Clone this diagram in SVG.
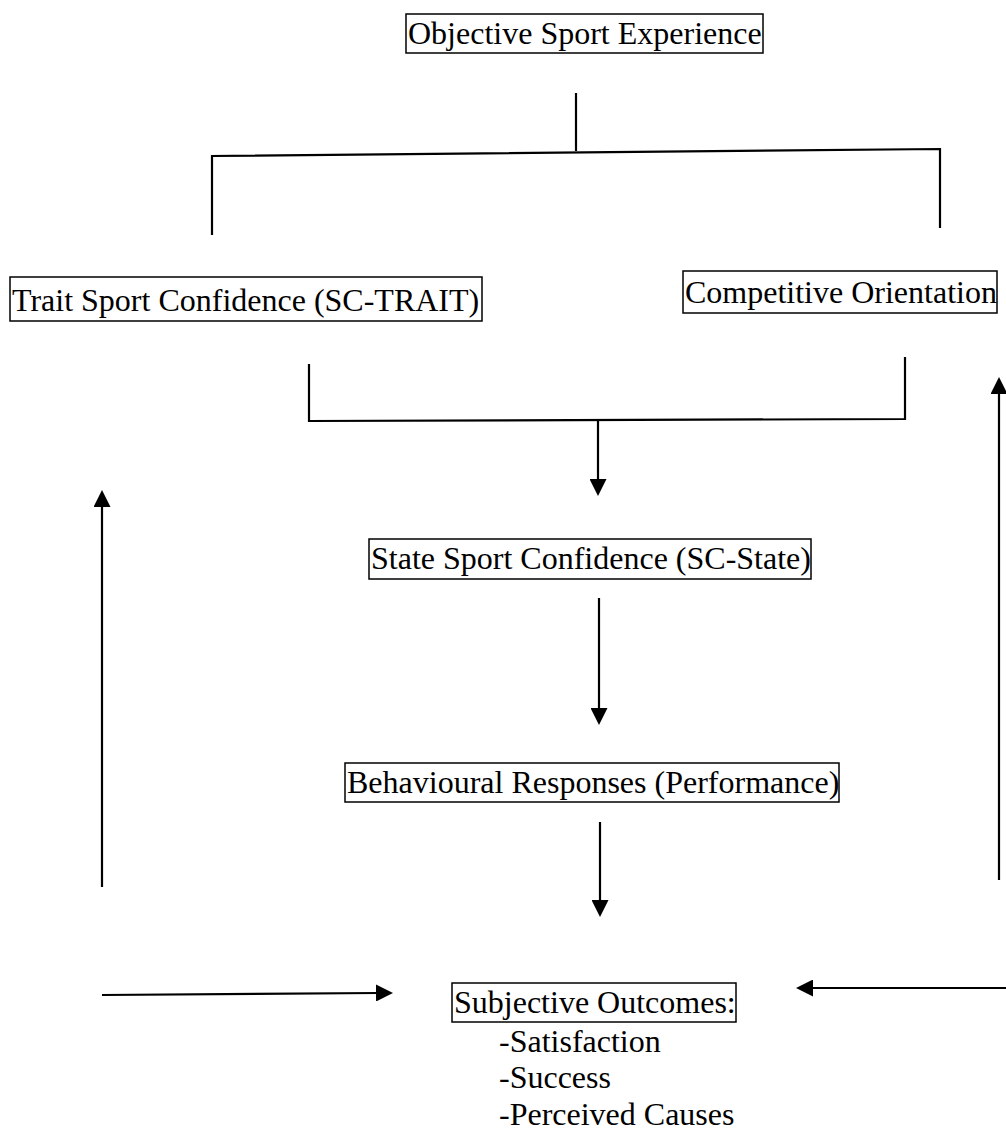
<svg xmlns="http://www.w3.org/2000/svg" width="1006" height="1130" viewBox="0 0 1006 1130">
<style>
  .box { fill: #fff; stroke: #000; stroke-width: 1.5; }
  .lbl { font-family: "Liberation Serif", "Times New Roman", serif; font-size: 32px; fill: #000; }
  .ln { fill: none; stroke: #000; stroke-width: 2.2; }
</style>
<defs>
  <marker id="ah" viewBox="0 0 17 17" markerUnits="userSpaceOnUse" markerWidth="17" markerHeight="17" refX="2" refY="8.5" orient="auto">
    <path d="M0,0 L17,8.5 L0,17 Z" fill="#000"/>
  </marker>
</defs>
<rect width="1006" height="1130" fill="#fff"/>

<g id="connectors">
  <path class="ln" d="M576,93 V151"/>
  <path class="ln" d="M212,235 V156 L940,149 V228"/>
  <path class="ln" d="M309,364 V421 L905,419 V357"/>
  <path class="ln" d="M598,421 V481" marker-end="url(#ah)"/>
  <path class="ln" d="M599,598 V710" marker-end="url(#ah)"/>
  <path class="ln" d="M600,822 V902" marker-end="url(#ah)"/>
  <path class="ln" d="M102,887 V505" marker-end="url(#ah)"/>
  <path class="ln" d="M999,880 V392" marker-end="url(#ah)"/>
  <path class="ln" d="M102,995 L378,993" marker-end="url(#ah)"/>
  <path class="ln" d="M1006,988 L811,988" marker-end="url(#ah)"/>
</g>

<g id="objective">
  <rect class="box" x="406" y="14" width="357" height="39"/>
  <text class="lbl" x="408" y="44">Objective Sport Experience</text>
</g>
<g id="trait">
  <rect class="box" x="10" y="277" width="472" height="44"/>
  <text class="lbl" x="12" y="311">Trait Sport Confidence (SC-TRAIT)</text>
</g>
<g id="competitive">
  <rect class="box" x="683" y="271" width="314" height="42"/>
  <text class="lbl" x="685" y="303">Competitive Orientation</text>
</g>
<g id="state">
  <rect class="box" x="369" y="539" width="442" height="40"/>
  <text class="lbl" x="371" y="569">State Sport Confidence (SC-State)</text>
</g>
<g id="behavioural">
  <rect class="box" x="345" y="763" width="494" height="39"/>
  <text class="lbl" x="347" y="793">Behavioural Responses (Performance)</text>
</g>
<g id="subjective">
  <rect class="box" x="452" y="983" width="284" height="39"/>
  <text class="lbl" x="454" y="1013">Subjective Outcomes:</text>
  <text class="lbl" x="499" y="1052">-Satisfaction</text>
  <text class="lbl" x="499" y="1088">-Success</text>
  <text class="lbl" x="499" y="1125">-Perceived Causes</text>
</g>
</svg>
